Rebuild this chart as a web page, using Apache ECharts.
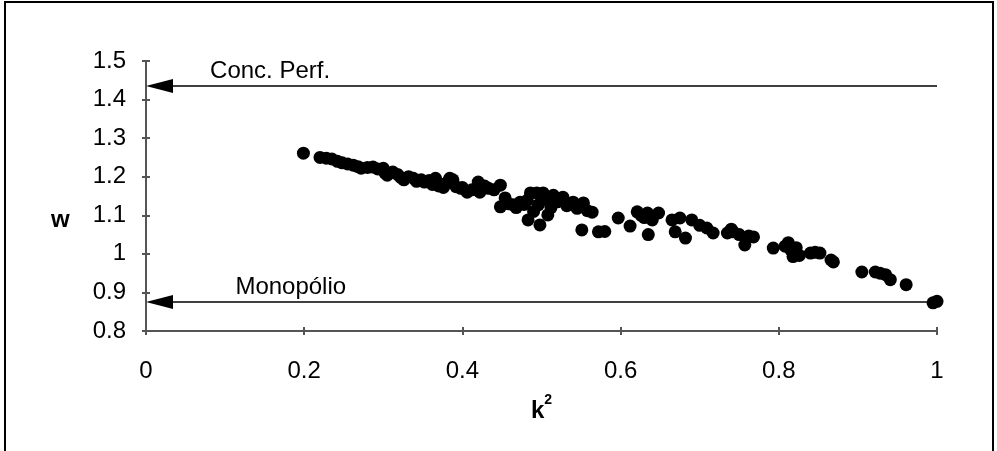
<!DOCTYPE html>
<html>
<head>
<meta charset="utf-8">
<script src="https://cdn.jsdelivr.net/npm/echarts@6/dist/echarts.min.js"></script>
<style>
  html, body { margin: 0; padding: 0; background: #fff; }
</style>
</head>
<body>
<div id="main" style="width: 997px;height:451px;"></div>
<script type="text/javascript">
    // dados (k^2, w)
    var k2 = [
        0.199, 0.220, 0.228, 0.235, 0.242, 0.248, 0.255, 0.262, 0.268, 0.272, 0.280, 0.287,
        0.293, 0.300, 0.302, 0.305, 0.312, 0.318, 0.322, 0.326, 0.332, 0.338, 0.342,
        0.348, 0.352, 0.358, 0.362, 0.366, 0.370, 0.376, 0.380, 0.384, 0.388, 0.392, 0.398,
        0.400, 0.406, 0.412, 0.420, 0.422, 0.428, 0.433, 0.440, 0.448,
        0.448, 0.454, 0.458, 0.464, 0.468, 0.473, 0.478, 0.482, 0.483, 0.486, 0.490, 0.494,
        0.496, 0.498, 0.502, 0.505, 0.508, 0.512, 0.515, 0.520, 0.527, 0.532, 0.540, 0.545,
        0.551, 0.553, 0.558, 0.564,
        0.572, 0.580, 0.597, 0.612, 0.621, 0.626, 0.630, 0.634, 0.635, 0.640, 0.648,
        0.665, 0.669, 0.675, 0.682, 0.690, 0.700, 0.709, 0.717, 0.735, 0.740, 0.742, 0.750,
        0.757, 0.762, 0.768,
        0.793, 0.808, 0.812, 0.815, 0.818, 0.822, 0.826, 0.840, 0.846, 0.852, 0.866, 0.869,
        0.905, 0.922, 0.928, 0.935, 0.941, 0.961, 0.995, 1.000
    ];
    var w = [
        1.261, 1.250, 1.248, 1.246, 1.240, 1.236, 1.233, 1.230, 1.226, 1.222, 1.224, 1.225,
        1.220, 1.222, 1.210, 1.204, 1.212, 1.206, 1.198, 1.192, 1.200, 1.196, 1.188,
        1.192, 1.186, 1.190, 1.180, 1.196, 1.176, 1.172, 1.184, 1.196, 1.192, 1.174, 1.170,
        1.172, 1.160, 1.166, 1.186, 1.160, 1.176, 1.170, 1.166, 1.178,
        1.122, 1.145, 1.130, 1.127, 1.120, 1.134, 1.128, 1.139, 1.088, 1.158, 1.110, 1.158,
        1.127, 1.075, 1.158, 1.140, 1.101, 1.120, 1.152, 1.135, 1.147, 1.125, 1.134, 1.118,
        1.062, 1.132, 1.112, 1.108,
        1.057, 1.058, 1.093, 1.072, 1.109, 1.100, 1.094, 1.106, 1.050, 1.088, 1.106,
        1.088, 1.057, 1.093, 1.041, 1.088, 1.074, 1.067, 1.054, 1.054, 1.064, 1.057, 1.050,
        1.023, 1.046, 1.044,
        1.015, 1.020, 1.029, 1.011, 0.993, 1.016, 0.996, 1.002, 1.004, 1.002, 0.984, 0.979,
        0.953, 0.953, 0.950, 0.946, 0.933, 0.920, 0.873, 0.877
    ];

    // setas de referência
    var arrowY = [1.435, 0.875];
    var arrowText = ['Conc. Perf.', 'Monopólio'];
    var arrowTextX = [0.081, 0.113];
    var arrowFrom = 1;
    var arrowTo = 0;

    var font = 'Liberation Sans, Arial, sans-serif';
    var myChart = echarts.init(document.getElementById('main'));

    var points = k2.map(function (x, i) { return [x, w[i]]; });
    var arrows = arrowY.map(function (y, i) { return [arrowTextX[i], y, i]; });

    var option = {
        backgroundColor: '#fff',
        animation: false,
        grid: { left: 146, right: 60, top: 61, bottom: 120 },
        graphic: [
            { type: 'rect', shape: { x: 5, y: 2, width: 988, height: 460 },
              style: { fill: 'none', stroke: '#000', lineWidth: 2 } },
            { type: 'text', left: 51, top: 208,
              style: { text: 'w', font: 'bold 24px ' + font, fill: '#000' } }
        ],
        xAxis: [{
            type: 'value', min: 0, max: 1, interval: 0.2,
            name: '{k|k}{s|2}', nameLocation: 'middle', nameGap: 62,
            nameTextStyle: {
                fontFamily: font, color: '#000',
                rich: {
                    k: { fontFamily: font, fontSize: 24, fontWeight: 'bold', color: '#000', lineHeight: 30, verticalAlign: 'bottom' },
                    s: { fontFamily: font, fontSize: 14, fontWeight: 'bold', color: '#000', lineHeight: 30, verticalAlign: 'top' }
                }
            },
            axisLine: { lineStyle: { color: '#555', width: 2 } },
            axisTick: { inside: false, length: 4, lineStyle: { color: '#555', width: 2 } },
            axisLabel: { fontFamily: font, fontSize: 24, color: '#000', margin: 28 },
            splitLine: { show: false }
        }, {
            type: 'value', min: 0, max: 1, interval: 0.2, position: 'bottom',
            axisLine: { show: false },
            axisTick: { inside: true, length: 4, lineStyle: { color: '#555', width: 2 } },
            axisLabel: { show: false },
            splitLine: { show: false }
        }],
        yAxis: [{
            type: 'value', min: 0.8, max: 1.5, interval: 0.1,
            axisLine: { show: true, lineStyle: { color: '#555', width: 2 } },
            axisTick: { show: true, inside: false, length: 4, lineStyle: { color: '#555', width: 2 } },
            axisLabel: { fontFamily: font, fontSize: 24, color: '#000', margin: 20 },
            splitLine: { show: false }
        }, {
            type: 'value', min: 0.8, max: 1.5, interval: 0.1, position: 'left',
            axisLine: { show: false },
            axisTick: { show: true, inside: true, length: 4, lineStyle: { color: '#555', width: 2 } },
            axisLabel: { show: false },
            splitLine: { show: false }
        }],
        series: [{
            type: 'custom',
            xAxisIndex: 0, yAxisIndex: 0,
            clip: false,
            data: arrows,
            renderItem: function (params, api) {
                var y = api.value(1);
                var i = api.value(2);
                var a = api.coord([arrowFrom, y]);
                var b = api.coord([arrowTo, y]);
                var t = api.coord([api.value(0), y]);
                return {
                    type: 'group',
                    children: [
                        { type: 'line', shape: { x1: a[0], y1: a[1], x2: b[0] + 20, y2: b[1] },
                          style: { stroke: '#000', lineWidth: 1.5 } },
                        { type: 'polygon',
                          shape: { points: [[b[0], b[1]], [b[0] + 27, b[1] - 7], [b[0] + 27, b[1] + 7]] },
                          style: { fill: '#000' } },
                        { type: 'text', x: t[0], y: t[1] - 15,
                          style: { text: arrowText[i], font: '24px ' + font, fill: '#000',
                                   align: 'left', verticalAlign: 'middle' } }
                    ]
                };
            }
        }, {
            type: 'scatter',
            xAxisIndex: 0, yAxisIndex: 0,
            symbol: 'circle',
            symbolSize: 13,
            itemStyle: { color: '#000', opacity: 1 },
            data: points
        }]
    };

    myChart.setOption(option);
</script>
</body>
</html>
